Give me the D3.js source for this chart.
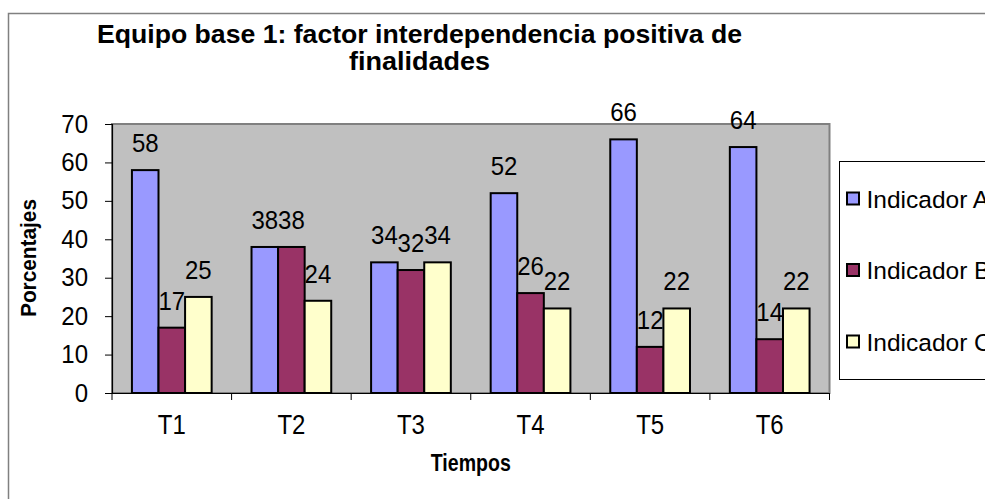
<!DOCTYPE html>
<html>
<head>
<meta charset="utf-8">
<script src="https://cdn.jsdelivr.net/npm/d3@7"></script>
<style>
  body { margin: 0; background: #fff; overflow: hidden; }
  text { font-family: "Liberation Sans", Arial, sans-serif; fill: #000; }
</style>
</head>
<body>
<script>
const categories = ["T1", "T2", "T3", "T4", "T5", "T6"];
const seriesNames = ["Indicador A", "Indicador B", "Indicador C"];
const indicadorA = [58, 38, 34, 52, 66, 64];
const indicadorB = [17, 38, 32, 26, 12, 14];
const indicadorC = [25, 24, 34, 22, 22, 22];
const yTicks = [0, 10, 20, 30, 40, 50, 60, 70];
const colors = ["#9999FF", "#993366", "#FFFFCC"];

const width = 985;
const height = 499;
const plot = { left: 112, right: 829.5, top: 124, bottom: 393 };

const values = [indicadorA, indicadorB, indicadorC];
const data = categories.map((c, i) => ({
  cat: c,
  vals: seriesNames.map((s, j) => ({ name: s, idx: j, value: values[j][i] }))
}));

const svg = d3.select("body").append("svg")
  .attr("width", width)
  .attr("height", height)
  .style("display", "block");

// outer chart frame (runs off the right / bottom edge)
svg.append("rect")
  .attr("x", 8.5).attr("y", 13.5)
  .attr("width", 1100).attr("height", 600)
  .attr("fill", "#fff")
  .attr("stroke", "#808080").attr("stroke-width", 1.5);

const x = d3.scaleBand()
  .domain(categories)
  .range([plot.left, plot.right])
  .paddingInner(1 / 3)
  .paddingOuter(1 / 6);

const xInner = d3.scaleBand()
  .domain(seriesNames)
  .range([0, x.bandwidth()]);

const y = d3.scaleLinear()
  .domain([0, 70])
  .range([plot.bottom, plot.top]);

// plot area
svg.append("rect")
  .attr("x", plot.left).attr("y", plot.top)
  .attr("width", plot.right - plot.left)
  .attr("height", plot.bottom - plot.top)
  .attr("fill", "#C0C0C0")
  .attr("stroke", "#808080").attr("stroke-width", 2);

// bars
const groups = svg.selectAll(".grp")
  .data(data)
  .enter().append("g")
  .attr("class", "grp")
  .attr("transform", (d) => `translate(${x(d.cat)},0)`);

groups.selectAll("rect")
  .data((d) => d.vals)
  .enter().append("rect")
  .attr("x", (d) => xInner(d.name))
  .attr("y", (d) => y(d.value))
  .attr("width", xInner.bandwidth())
  .attr("height", (d) => y(0) - y(d.value))
  .attr("fill", (d) => colors[d.idx])
  .attr("stroke", "#000").attr("stroke-width", 2);

groups.selectAll("text")
  .data((d) => d.vals)
  .enter().append("text")
  .text((d) => d.value)
  .attr("text-anchor", "middle")
  .attr("font-size", 24)
  .attr("transform", (d) => `translate(${xInner(d.name) + xInner.bandwidth() / 2},${y(d.value) - 18}) scale(1,1.05)`);

// y axis
const yAxis = svg.append("g")
  .attr("transform", `translate(${plot.left},0)`)
  .call(d3.axisLeft(y).tickValues(yTicks).tickSize(7).tickPadding(17).tickFormat((d) => d));
yAxis.select(".domain").attr("stroke", "#000").attr("stroke-width", 1.2);
yAxis.selectAll(".tick line").attr("stroke", "#000");
yAxis.selectAll(".tick text")
  .attr("font-size", 24)
  .attr("font-family", "Liberation Sans, Arial, sans-serif")
  .attr("fill", "#000")
  .attr("transform", "scale(1,1.05)");

// x axis
const xAxis = svg.append("g")
  .attr("transform", `translate(0,${plot.bottom})`)
  .call(d3.axisBottom(x).tickSize(0));
xAxis.select(".domain").attr("stroke", "#000").attr("stroke-width", 1.2);
xAxis.selectAll(".tick text")
  .attr("y", 0).attr("dy", null)
  .attr("font-size", 24)
  .attr("font-family", "Liberation Sans, Arial, sans-serif")
  .attr("fill", "#000")
  .attr("transform", "translate(0,41) scale(1,1.12)");

xAxis.selectAll(".bound")
  .data(d3.range(categories.length + 1))
  .enter().append("line")
  .attr("class", "bound")
  .attr("x1", (i) => plot.left + i * x.step())
  .attr("x2", (i) => plot.left + i * x.step())
  .attr("y1", 0).attr("y2", 7)
  .attr("stroke", "#000");

// titles (bold text in the original is condensed)
svg.append("text")
  .text("Equipo base 1: factor interdependencia positiva de")
  .attr("x", 419.5).attr("y", 43)
  .attr("text-anchor", "middle")
  .attr("font-size", 26).attr("font-weight", "bold")
  .attr("textLength", 645).attr("lengthAdjust", "spacingAndGlyphs");

svg.append("text")
  .text("finalidades")
  .attr("x", 419.5).attr("y", 70)
  .attr("text-anchor", "middle")
  .attr("font-size", 26).attr("font-weight", "bold")
  .attr("textLength", 141).attr("lengthAdjust", "spacingAndGlyphs");

svg.append("text")
  .text("Tiempos")
  .attr("x", (plot.left + plot.right) / 2).attr("y", 471)
  .attr("text-anchor", "middle")
  .attr("font-size", 24).attr("font-weight", "bold")
  .attr("textLength", 80).attr("lengthAdjust", "spacingAndGlyphs");

svg.append("text")
  .text("Porcentajes")
  .attr("text-anchor", "middle")
  .attr("font-size", 22).attr("font-weight", "bold")
  .attr("textLength", 118).attr("lengthAdjust", "spacingAndGlyphs")
  .attr("transform", "translate(36,258) rotate(-90)");

// legend
const legendTop = 161;
svg.append("rect")
  .attr("x", 839.5).attr("y", legendTop + 0.5)
  .attr("width", 200).attr("height", 218)
  .attr("fill", "#fff")
  .attr("stroke", "#000").attr("stroke-width", 1);

const legendY = d3.scalePoint()
  .domain(seriesNames)
  .range([198.5, 341.5]);

const legend = svg.selectAll(".legend")
  .data(seriesNames)
  .enter().append("g")
  .attr("class", "legend")
  .attr("transform", (d) => `translate(847,${legendY(d)})`);

legend.append("rect")
  .attr("x", 0).attr("y", -6)
  .attr("width", 12).attr("height", 12)
  .attr("fill", (d, i) => colors[i])
  .attr("stroke", "#000").attr("stroke-width", 2);

legend.append("text")
  .text((d) => d)
  .attr("font-size", 24.5)
  .attr("x", 19.5).attr("y", 9);
</script>
</body>
</html>
